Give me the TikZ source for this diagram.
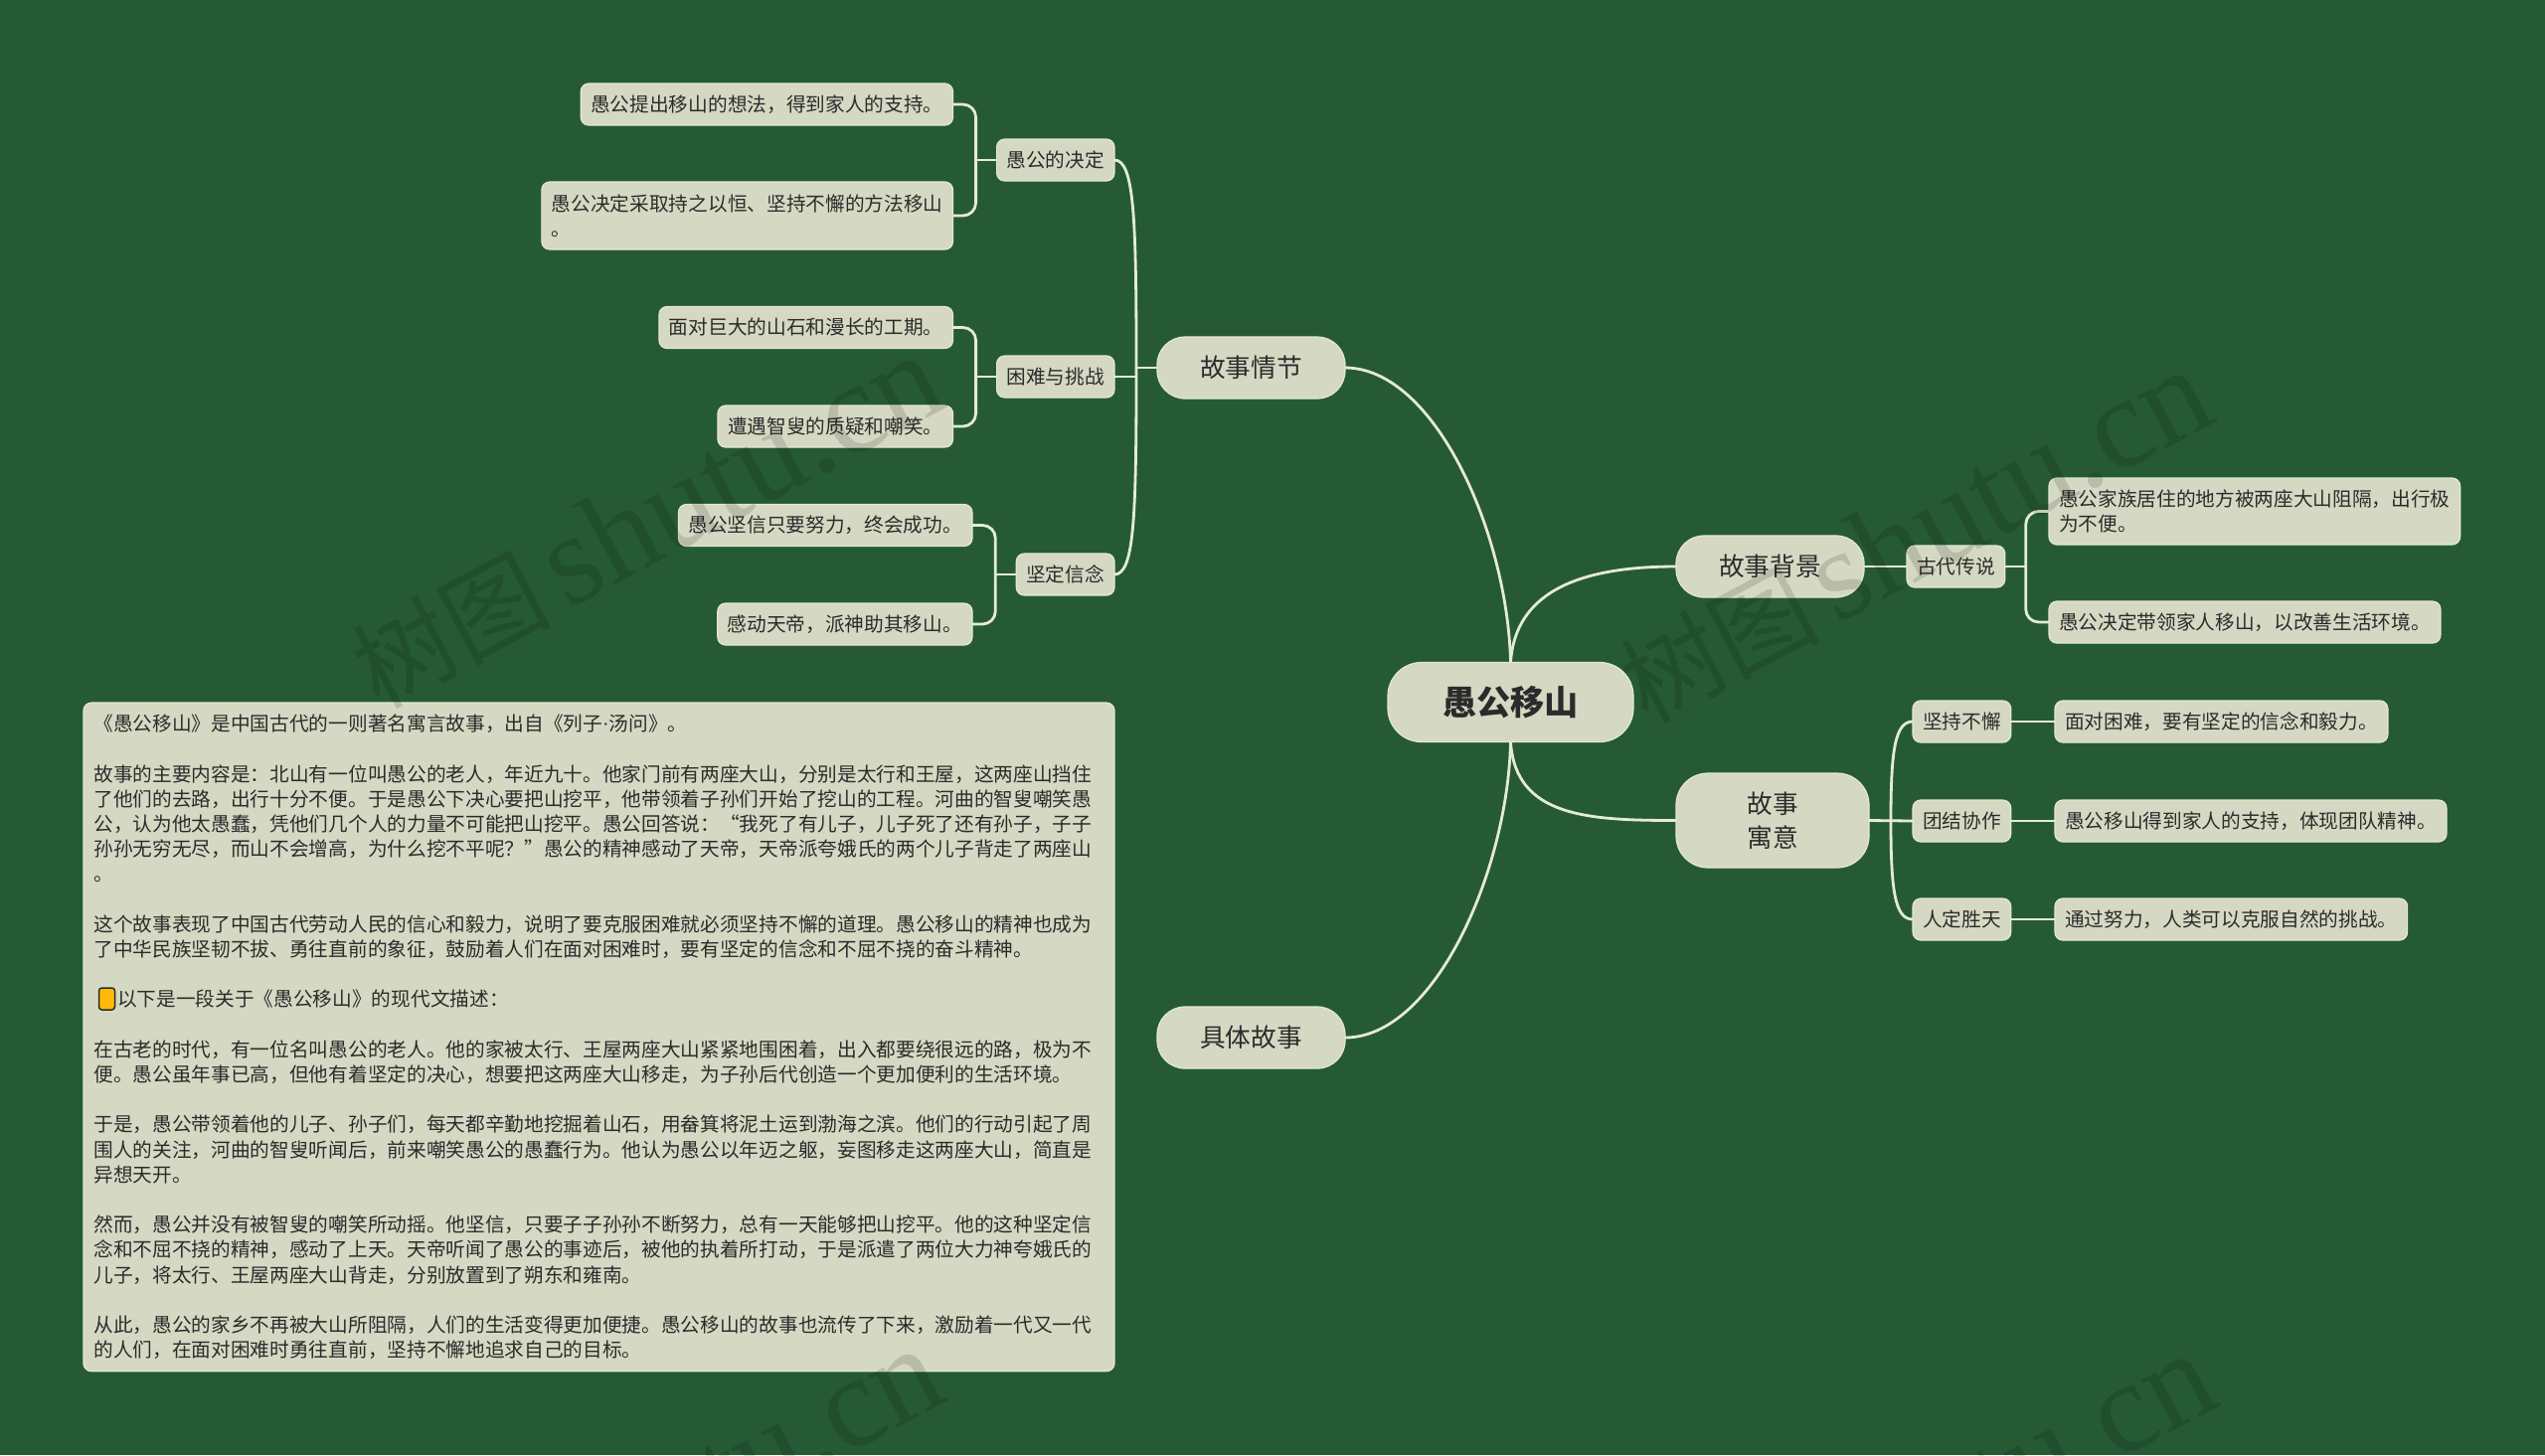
\documentclass[tikz,border=0pt]{standalone}
\usepackage{fontspec}
\setmainfont{Noto Sans CJK SC}
\newfontfamily\wmLatin{Liberation Serif}
\definecolor{bgGreen}{HTML}{265A34}
\definecolor{boxFill}{HTML}{D5D9C3}
\definecolor{boxEdge}{HTML}{E2E8D4}
\definecolor{linkCol}{HTML}{E4EBD6}
\definecolor{inkCol}{HTML}{2B2B2B}
\definecolor{bookCol}{HTML}{FFBA08}
\tikzset{
	boxbase/.style={fill=boxFill, draw=boxEdge, line width=.12mm, text=inkCol, outer sep=0pt},
	smalltext/.style={font=\fontsize{5.6pt}{7.17pt}\selectfont},
	leaf/.style={boxbase, smalltext, rounded corners=.8mm, inner xsep=1mm, inner ysep=.6mm, minimum height=4.2mm, align=left},
	topic/.style={boxbase, font=\fontsize{7.3pt}{9.6pt}\selectfont, rounded corners=2.8mm, minimum width=18.9mm, minimum height=6.2mm, align=center},
	link/.style={draw=linkCol, line width=.28mm},
	bracket/.style={link, rounded corners=1.3mm},
	wmtext/.style={text=black, text opacity=.13, rotate=28, font=\fontsize{28.5pt}{34pt}\selectfont, inner sep=0pt},
}
\begin{document}
\begin{tikzpicture}[x=.1mm, y=-.1mm]

	\clip (0,0) rectangle (2560,1464);
	\fill[bgGreen] (0,0) rectangle (2560,1464);

	% root and main topics
	\node[boxbase, rounded corners=3.4mm, minimum width=24.7mm, minimum height=8mm, font=\fontsize{9.7pt}{12pt}\selectfont\bfseries] (root) at (1519.5,706.5) {愚公移山};
	\node[topic] (plot) at (1258.5,370) {故事情节};
	\node[topic] (detail) at (1258.5,1044) {具体故事};
	\node[topic] (background) at (1780.5,570) {故事背景};
	\node[topic, minimum width=19.4mm, minimum height=9.5mm, rounded corners=3.2mm] (moral) at (1783,825.5) {故事\\寓意};

	% left side, sub topics
	\node[leaf, anchor=east] (decide) at (1121,161) {愚公的决定};
	\node[leaf, anchor=east] (hard) at (1121,379) {困难与挑战};
	\node[leaf, anchor=east] (belief) at (1121,578) {坚定信念};

	% left side, leaves
	\node[leaf, anchor=east] (decideA) at (958.5,105) {愚公提出移山的想法，得到家人的支持。};
	\node[leaf, anchor=east, minimum height=6.8mm] (decideB) at (958.5,217) {愚公决定采取持之以恒、坚持不懈的方法移山\\。};
	\node[leaf, anchor=east] (hardA) at (958.5,329.5) {面对巨大的山石和漫长的工期。};
	\node[leaf, anchor=east] (hardB) at (958.5,429) {遭遇智叟的质疑和嘲笑。};
	\node[leaf, anchor=east] (beliefA) at (978,528.5) {愚公坚信只要努力，终会成功。};
	\node[leaf, anchor=east] (beliefB) at (978,628) {感动天帝，派神助其移山。};

	% right side, sub topics
	\node[leaf, anchor=west] (legend) at (1918,570) {古代传说};
	\node[leaf, anchor=west] (persist) at (1924,726) {坚持不懈};
	\node[leaf, anchor=west] (unite) at (1924,826) {团结协作};
	\node[leaf, anchor=west] (fate) at (1924,925) {人定胜天};

	% right side, leaves
	\node[leaf, anchor=west, minimum height=6.7mm] (legendA) at (2061,514.5) {愚公家族居住的地方被两座大山阻隔，出行极\\为不便。};
	\node[leaf, anchor=west] (legendB) at (2061,626) {愚公决定带领家人移山，以改善生活环境。};
	\node[leaf, anchor=west] (persistA) at (2067,726) {面对困难，要有坚定的信念和毅力。};
	\node[leaf, anchor=west] (uniteA) at (2067,826) {愚公移山得到家人的支持，体现团队精神。};
	\node[leaf, anchor=west] (fateA) at (2067,925) {通过努力，人类可以克服自然的挑战。};

	% long text
	\node[leaf, anchor=north west, text width=101.6mm, inner xsep=1.05mm, inner ysep=1.2mm] (story) at (84,707) {《愚公移山》是中国古代的一则著名寓言故事，出自《列子{\wmLatin ·}汤问》。\\[7.17pt]
故事的主要内容是：北山有一位叫愚公的老人，年近九十。他家门前有两座大山，分别是太行和王屋，这两座山挡住\\
了他们的去路，出行十分不便。于是愚公下决心要把山挖平，他带领着子孙们开始了挖山的工程。河曲的智叟嘲笑愚\\
公，认为他太愚蠢，凭他们几个人的力量不可能把山挖平。愚公回答说：“我死了有儿子，儿子死了还有孙子，子子\\
孙孙无穷无尽，而山不会增高，为什么挖不平呢？”愚公的精神感动了天帝，天帝派夸娥氏的两个儿子背走了两座山\\
。\\[7.17pt]
这个故事表现了中国古代劳动人民的信心和毅力，说明了要克服困难就必须坚持不懈的道理。愚公移山的精神也成为\\
了中华民族坚韧不拔、勇往直前的象征，鼓励着人们在面对困难时，要有坚定的信念和不屈不挠的奋斗精神。\\[7.17pt]
\hspace*{1.2em}以下是一段关于《愚公移山》的现代文描述：\\[7.17pt]
在古老的时代，有一位名叫愚公的老人。他的家被太行、王屋两座大山紧紧地围困着，出入都要绕很远的路，极为不\\
便。愚公虽年事已高，但他有着坚定的决心，想要把这两座大山移走，为子孙后代创造一个更加便利的生活环境。\\[7.17pt]
于是，愚公带领着他的儿子、孙子们，每天都辛勤地挖掘着山石，用畚箕将泥土运到渤海之滨。他们的行动引起了周\\
围人的关注，河曲的智叟听闻后，前来嘲笑愚公的愚蠢行为。他认为愚公以年迈之躯，妄图移走这两座大山，简直是\\
异想天开。\\[7.17pt]
然而，愚公并没有被智叟的嘲笑所动摇。他坚信，只要子子孙孙不断努力，总有一天能够把山挖平。他的这种坚定信\\
念和不屈不挠的精神，感动了上天。天帝听闻了愚公的事迹后，被他的执着所打动，于是派遣了两位大力神夸娥氏的\\
儿子，将太行、王屋两座大山背走，分别放置到了朔东和雍南。\\[7.17pt]
从此，愚公的家乡不再被大山所阻隔，人们的生活变得更加便捷。愚公移山的故事也流传了下来，激励着一代又一代\\
的人们，在面对困难时勇往直前，坚持不懈地追求自己的目标。};
	\node[fill=bookCol, draw=inkCol, line width=.15mm, rounded corners=.3mm, minimum width=1.6mm, minimum height=2.2mm, inner sep=0pt] (bookIcon) at (107.5,1005) {};

	% root to main topics
	\draw[link] (root.north) .. controls +(-3,-130) and +(90,0) .. (plot.east);
	\draw[link] (root.south) .. controls +(-3,130) and +(90,0) .. (detail.east);
	\draw[link] (root.north) .. controls +(5,-75) and +(-90,0) .. (background.west);
	\draw[link] (root.south) .. controls +(5,75) and +(-90,0) .. (moral.west);

	% trunks
	\draw[link] (plot.west) -- ++(-21,0) coordinate (plotTrunk);
	\draw[link] (decide.east) .. controls +(20,0) and +(0,-150) .. (plotTrunk);
	\draw[link] (belief.east) .. controls +(20,0) and +(0,150) .. (plotTrunk);
	\draw[link] (hard.east) -| (plotTrunk);

	\draw[link] (moral.east) -- (unite.west) coordinate[pos=.5] (moralTrunk);
	\draw[link] (persist.west) .. controls +(-18,0) and +(0,-70) .. (moralTrunk);
	\draw[link] (fate.west) .. controls +(-18,0) and +(0,70) .. (moralTrunk);

	% brackets on the left
	\foreach \sub/\leafA/\leafB in {decide/decideA/decideB, hard/hardA/hardB, belief/beliefA/beliefB}
	{
		\draw[link] (\sub.west) -- ++(-21,0) coordinate (\sub Bar);
		\draw[bracket] (\leafA.east) -| (\sub Bar) |- (\leafB.east);
	}
	% brackets and straight links on the right
	\draw[link] (background.east) -- (legend.west);
	\draw[link] (legend.east) -- ++(21,0) coordinate (legendBar);
	\draw[bracket] (legendA.west) -| (legendBar) |- (legendB.west);
	\foreach \sub in {persist, unite, fate}
	{
		\draw[link] (\sub.east) -- (\sub A.west);
	}

	% watermark on top
	\foreach \wx/\wy in {650/525, 1926/540, 650/1525, 1930/1530}
	{
		\node[wmtext] (wm\wx\wy) at (\wx,\wy) {树图\hspace{.15em}{\wmLatin\fontsize{37pt}{37pt}\selectfont shutu.cn}};
	}

\end{tikzpicture}
\end{document}
